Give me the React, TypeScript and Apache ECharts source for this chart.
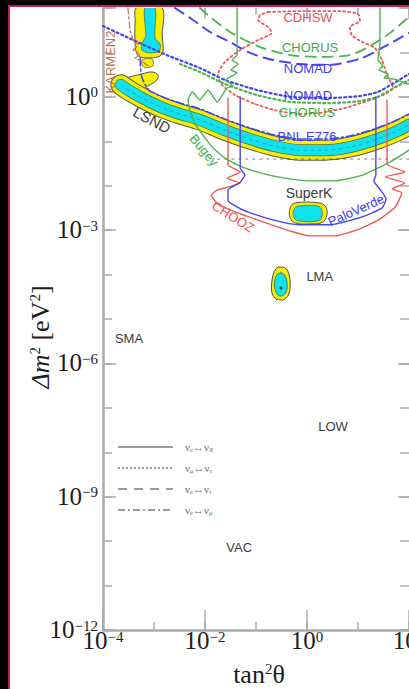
import React, { useEffect, useRef } from "react";
import * as echarts from "echarts";

type P = [number, number];
// every point is [log10(tan²θ), log10(Δm² / eV²)]

const xLabelExponents = [-4, -2, 0, 2];
const yLabelExponents = [-12, -9, -6, -3, 0];

const lsndIslandOuter: P[] = [[-3.35, 2.0], [-2.84, 2.0], [-2.84, 1.39], [-2.82, 1.055], [-2.88, 0.92], [-3.08, 0.875], [-3.31, 0.92], [-3.37, 1.17], [-3.37, 1.73]];
const lsndIslandInner: P[] = [[-3.18, 2.0], [-2.98, 2.0], [-2.98, 1.325], [-2.88, 1.19], [-2.9, 1.03], [-3.08, 0.99], [-3.24, 1.055], [-3.22, 1.235], [-3.16, 1.37]];
const lsndIslandFragment: P[] = [[-3.24, 0.83], [-3.04, 0.855], [-3.02, 0.695], [-3.2, 0.67]];
const lsndHook: P[] = [[-3.71, 0.22], [-3.65, 0.38], [-3.47, 0.45], [-3.24, 0.515], [-3.04, 0.56], [-2.92, 0.49], [-2.96, 0.36], [-3.12, 0.245], [-3.31, 0.11], [-3.57, 0.09]];
const lsndBand: P[] = [[-3.65, 0.27], [-3.47, 0.13], [-3.27, 0.0], [-3.08, -0.115], [-2.78, -0.27], [-2.49, -0.385], [-2.1, -0.52], [-1.61, -0.75], [-1.12, -0.95], [-0.63, -1.11], [-0.14, -1.2], [0.35, -1.2], [0.84, -1.13], [1.33, -0.97], [1.73, -0.79], [2.0, -0.63]];

const superKOuter: P[] = [[-0.24, -2.39], [0.25, -2.39], [0.37, -2.48], [0.39, -2.66], [0.31, -2.82], [0.06, -2.86], [-0.22, -2.84], [-0.33, -2.73], [-0.33, -2.5]];
const superKInner: P[] = [[-0.18, -2.46], [0.22, -2.46], [0.29, -2.55], [0.29, -2.7], [0.22, -2.79], [-0.18, -2.79], [-0.26, -2.7], [-0.26, -2.55]];

const lmaOuter: P[] = [[-0.51, -3.83], [-0.41, -3.87], [-0.35, -4.01], [-0.33, -4.21], [-0.35, -4.41], [-0.43, -4.55], [-0.53, -4.57], [-0.63, -4.53], [-0.69, -4.39], [-0.69, -4.17], [-0.65, -3.96], [-0.59, -3.85]];
const lmaInner: P[] = [[-0.51, -3.96], [-0.43, -4.03], [-0.39, -4.21], [-0.41, -4.39], [-0.49, -4.48], [-0.57, -4.46], [-0.63, -4.32], [-0.63, -4.12], [-0.59, -4.01]];
const lmaBestFit: P[] = [[-0.51, -4.3]];

const nomadDotted: P[] = [[-4.0, 1.595], [-3.41, 1.28], [-2.75, 0.94], [-2.1, 0.65], [-1.61, 0.38], [-0.98, 0.155], [-0.33, 0.0], [0.45, -0.025], [1.04, 0.02], [1.39, 0.11], [1.67, 0.29], [2.0, 0.515]];
const chorusDotted: P[] = [[-2.49, 0.74], [-2.1, 0.56], [-1.61, 0.29], [-0.98, 0.04], [-0.33, -0.115], [0.45, -0.14], [1.04, -0.095], [1.39, 0.0], [1.67, 0.18], [2.0, 0.38]];
const nomadDashed: P[] = [[-2.59, 2.0], [-2.29, 1.775], [-1.9, 1.46], [-1.51, 1.235], [-1.12, 0.99], [-0.67, 0.83], [-0.14, 0.74], [0.45, 0.72], [1.08, 0.875], [1.47, 1.1], [2.0, 1.44]];
const chorusDashed: P[] = [[-2.1, 2.0], [-1.9, 1.8], [-1.51, 1.46], [-0.92, 1.12], [-0.33, 0.94], [0.25, 0.9], [0.84, 0.94], [1.24, 1.145], [1.63, 1.44], [2.0, 1.8]];
const cdhswDotted: P[] = [[-0.76, 1.91], [-0.14, 1.93], [0.65, 1.93], [1.0, 1.865], [1.04, 1.71], [0.84, 1.57], [0.88, 1.39], [1.08, 1.235], [1.33, 1.1], [1.47, 0.83], [1.57, 0.49], [1.69, 0.2], [1.53, 0.065], [1.24, -0.07], [0.75, -0.25], [0.25, -0.36], [-0.18, -0.385], [-0.63, -0.3], [-1.02, -0.16], [-1.41, 0.04], [-1.67, 0.27], [-1.75, 0.49], [-1.61, 0.785], [-1.31, 1.055], [-0.96, 1.28], [-0.69, 1.44], [-0.76, 1.57], [-0.96, 1.73], [-0.92, 1.84], [-0.76, 1.91]];
const bnlDashDot: P[] = [[-3.27, 0.875], [-3.25, 0.49], [-3.16, 0.245], [-3.08, 0.13], [-2.78, -0.025], [-2.49, -0.14], [-2.1, -0.27], [-1.61, -0.5], [-1.12, -0.7], [-0.63, -0.86], [-0.14, -0.95], [0.35, -0.95], [0.84, -0.88], [1.33, -0.72], [1.73, -0.54], [2.0, -0.385]];
const bugeySolid: P[] = [[-1.37, 2.0], [-1.37, 0.94], [-1.47, 0.83], [-1.35, 0.74], [-1.49, 0.605], [-1.37, 0.54], [-1.59, 0.38], [-1.45, 0.245], [-1.57, 0.2], [-1.76, -0.115], [-1.94, 0.155], [-2.1, -0.07], [-2.25, 0.11], [-2.33, -0.07], [-2.29, -0.3], [-2.18, -0.63], [-2.04, -0.86], [-1.86, -1.13], [-1.61, -1.38], [-1.31, -1.56], [-0.92, -1.71], [-0.43, -1.83], [0.06, -1.89], [0.55, -1.89], [1.04, -1.78], [1.43, -1.58], [1.73, -1.4], [2.0, -1.2]];
const greenSolidRight: P[] = [[1.43, 2.0], [1.43, 1.17], [1.39, 0.83], [1.49, 0.695], [1.41, 0.605], [1.59, 0.515], [1.51, 0.425], [1.73, 0.4], [1.86, 0.335], [2.0, 0.29]];
const choozSolid: P[] = [[-1.55, -0.025], [-1.55, -1.53], [-1.31, -1.69], [-1.57, -1.83], [-1.31, -1.94], [-1.76, -2.1], [-1.88, -2.21], [-1.75, -2.41], [-1.41, -2.59], [-0.92, -2.79], [-0.33, -3.02], [0.06, -3.13], [0.55, -3.13], [1.04, -2.97], [1.43, -2.75], [1.73, -2.48], [1.86, -2.16], [1.67, -2.07], [1.92, -1.94], [1.53, -1.8], [1.92, -1.69], [1.57, -1.51], [1.57, -0.07]];
const paloVerdeSolid: P[] = [[-1.31, 0.0], [-1.31, -1.6], [-1.22, -1.76], [-1.31, -1.92], [-1.55, -2.1], [-1.55, -2.32], [-1.25, -2.55], [-0.67, -2.77], [-0.14, -2.88], [0.41, -2.88], [1.08, -2.7], [1.47, -2.5], [1.55, -2.3], [1.41, -2.05], [1.31, -1.89], [1.35, -1.76], [1.35, 0.0]];
const karmenDashDot: P[] = [[-3.51, 2.0], [-3.47, 1.505], [-3.41, 1.28], [-3.31, 1.17], [-3.41, 1.055], [-3.27, 0.965], [-3.37, 0.875], [-3.22, 0.785], [-3.08, 0.67]];
const bandEdgeDotted: P[] = [[-1.75, -1.4], [2.0, -1.4]];

const annotations = [
  { text: "CDHSW", at: [0.02, 1.775], color: "#f05050", size: 13, rotate: 0 },
  { text: "CHORUS", at: [0.06, 1.12], color: "#3fae3f", size: 13, rotate: 0 },
  { text: "NOMAD", at: [0.02, 0.63], color: "#3c3cf0", size: 13, rotate: 0 },
  { text: "NOMAD", at: [0.02, 0.04], color: "#3c3cf0", size: 13, rotate: 0 },
  { text: "CHORUS", at: [0.0, -0.36], color: "#3fae3f", size: 13, rotate: 0 },
  { text: "BNL E776", at: [0.0, -0.9], color: "#3c3cf0", size: 13, rotate: 0 },
  { text: "SuperK", at: [0.04, -2.16], color: "#3c3c3c", size: 14, rotate: 0 },
  { text: "PaloVerde", at: [0.96, -2.55], color: "#3c3cf0", size: 13, rotate: 24 },
  { text: "CHOOZ", at: [-1.45, -2.7], color: "#f05050", size: 13, rotate: -32 },
  { text: "LSND", at: [-3.04, -0.52], color: "#3c3c3c", size: 15, rotate: -28 },
  { text: "Bugey", at: [-2.02, -1.2], color: "#3fae3f", size: 13, rotate: -50 },
  { text: "KARMEN2", at: [-3.86, 0.785], color: "#b8754f", size: 13, rotate: 90 },
  { text: "LMA", at: [0.25, -4.05], color: "#3c3c3c", size: 13, rotate: 0 },
  { text: "SMA", at: [-3.49, -5.43], color: "#3c3c3c", size: 13, rotate: 0 },
  { text: "LOW", at: [0.51, -7.43], color: "#3c3c3c", size: 13, rotate: 0 },
  { text: "VAC", at: [-1.33, -10.15], color: "#3c3c3c", size: 13, rotate: 0 },
];

const legendRows = [
  { a: "e", b: "X", dash: null as number[] | null },
  { a: "μ", b: "τ", dash: [2, 2] },
  { a: "e", b: "τ", dash: [9, 7] },
  { a: "e", b: "μ", dash: [7, 3, 2, 3] },
];

const serif = '"Liberation Serif", "DejaVu Serif", serif';
const sans = '"Liberation Sans", Arial, sans-serif';
const axisGray = "#ababab";
const YELLOW = "#f6ef00";
const CYAN = "#10e2ee";
const RED = "#f05858";
const GREEN = "#4cb54c";
const BLUE = "#4444f0";
const BROWN = "#c08060";

const expText = (v: number) => `{b|10}{s|${String(v).replace("-", "\u2212")}}`;
const richNum = {
  b: { fontFamily: serif, fontSize: 25, color: "#1c1c1c", lineHeight: 24, verticalAlign: "bottom" },
  s: { fontFamily: serif, fontSize: 15, color: "#1c1c1c", lineHeight: 14, verticalAlign: "top" },
};

function region(points: P[], fill: string, stroke: string, lw: number, smooth: number, z = 2) {
  return {
    type: "custom",
    silent: true,
    clip: true,
    z,
    data: [points[0]],
    renderItem: (_p: any, api: any) => ({
      type: "polygon",
      shape: { points: points.map((pt) => api.coord(pt)), smooth },
      style: { fill, stroke, lineWidth: lw },
    }),
  };
}

function curve(data: P[], color: string, width: number, type: any, smooth: number | boolean = false, z = 3, opacity = 1) {
  return {
    type: "line",
    data,
    z,
    silent: true,
    showSymbol: false,
    symbol: "none",
    smooth,
    lineStyle: { color, width, type, opacity, cap: "round", join: "round" },
  };
}

function xAxisDef(position: string, interval: number, len: number, main: boolean) {
  return {
    type: "value", min: -4, max: 2, interval, position,
    axisLine: { show: main, onZero: false, lineStyle: { color: axisGray, width: 2.5 } },
    axisTick: { show: true, inside: true, length: len, lineStyle: { color: axisGray, width: 1.5 } },
    axisLabel: main
      ? { show: true, margin: -1, formatter: (v: number) => (xLabelExponents.includes(v) ? expText(v) : ""), rich: richNum }
      : { show: false },
    splitLine: { show: false },
  };
}
function yAxisDef(position: string, interval: number, len: number, main: boolean) {
  return {
    type: "value", min: -12, max: 2, interval, position,
    axisLine: { show: main, onZero: false, lineStyle: { color: axisGray, width: 2.5 } },
    axisTick: { show: true, inside: true, length: len, lineStyle: { color: axisGray, width: 1.5 } },
    axisLabel: main
      ? { show: true, margin: 5, formatter: (v: number) => (yLabelExponents.includes(v) ? expText(v) : ""), rich: richNum }
      : { show: false },
    splitLine: { show: false },
  };
}

export default function App() {
  const ref = useRef<HTMLDivElement>(null);
  useEffect(() => {
    if (!ref.current) return;
    const chart = echarts.init(ref.current, undefined, { renderer: "svg" });
    const legendGraphics: any[] = [];
    legendRows.forEach((r, i) => {
      const y = 447 + i * 21;
      legendGraphics.push({
        type: "line",
        shape: { x1: 118, y1: y, x2: 173, y2: y },
        style: { stroke: "#7a7a7a", lineWidth: 1.6, lineDash: r.dash || undefined },
      });
      legendGraphics.push({
        type: "text",
        x: 185,
        y: y,
        style: {
          text: `{n|ν}{d|${r.a}}{n|↔ν}{d|${r.b}}`,
          rich: {
            n: { fontFamily: serif, fontSize: 11, fill: "#707070", lineHeight: 12, verticalAlign: "top" },
            d: { fontFamily: serif, fontSize: 7, fontStyle: "italic", fill: "#707070", lineHeight: 7, padding: [7, 0, 0, 0], verticalAlign: "bottom" },
          },
          verticalAlign: "middle",
          align: "left",
        },
      });
    });

    const option: any = {
      animation: false,
      grid: { left: 103, right: 0, top: 8, bottom: 59, containLabel: false, outerBoundsMode: "none" },
      xAxis: [
        xAxisDef("bottom", 1, 8, true),
        xAxisDef("bottom", 2, 20, false),
        xAxisDef("top", 1, 7, false),
        xAxisDef("top", 2, 11, false),
      ],
      yAxis: [
        yAxisDef("left", 1, 9, true),
        yAxisDef("left", 3, 13, false),
        yAxisDef("right", 1, 9, false),
        yAxisDef("right", 3, 11, false),
      ],
      graphic: [
        {
          type: "text", x: 40, y: 337, rotation: Math.PI / 2,
          style: {
            text: "{i|Δm}{s|2}{n| [eV}{s|2}{n|]}",
            rich: {
              i: { fontFamily: serif, fontSize: 26, fontStyle: "italic", fill: "#1c1c1c", lineHeight: 26, verticalAlign: "bottom" },
              n: { fontFamily: serif, fontSize: 26, fill: "#1c1c1c", lineHeight: 26, verticalAlign: "bottom" },
              s: { fontFamily: serif, fontSize: 15, fill: "#1c1c1c", lineHeight: 15, verticalAlign: "top" },
            },
            align: "center", verticalAlign: "middle",
          },
        },
        {
          type: "text", x: 259, y: 674,
          style: {
            text: "{n|tan}{s|2}{n|θ}",
            rich: {
              n: { fontFamily: serif, fontSize: 26, fill: "#1c1c1c", lineHeight: 26, verticalAlign: "bottom" },
              s: { fontFamily: serif, fontSize: 15, fill: "#1c1c1c", lineHeight: 15, verticalAlign: "top" },
            },
            align: "center", verticalAlign: "middle",
          },
        },
        ...legendGraphics,
      ],
      series: [
        region(lsndIslandOuter, YELLOW, "#555", 1, 0.3),
        region(lsndIslandFragment, YELLOW, "#666", 0.8, 0.3),
        region(lsndIslandInner, CYAN, "#4a6a6a", 0.8, 0.3),
        region(lsndHook, YELLOW, "#555", 1, 0.4),
        curve(lsndBand, "#555", 21, "solid", 0.3, 2),
        curve(lsndBand, YELLOW, 19, "solid", 0.3, 2),
        curve(lsndBand, "#5f6a40", 12, "solid", 0.3, 2),
        curve(lsndBand, CYAN, 10.5, "solid", 0.3, 2),
        curve(lsndBand, "#3a6670", 1, [3, 4], 0.3, 2, 0.5),
        region(superKOuter, YELLOW, "#555", 1, 0.4),
        region(superKInner, CYAN, "#4a6a6a", 0.8, 0.4),
        region(lmaOuter, YELLOW, "#444", 1, 0.4),
        region(lmaInner, CYAN, "#3a5a5a", 0.8, 0.4),
        {
          type: "scatter", data: lmaBestFit, symbolSize: 3, z: 3, silent: true,
          itemStyle: { color: "#111" },
        },
        curve(bandEdgeDotted, "#222", 1, [2, 5], false, 3, 0.6),
        curve(cdhswDotted, RED, 1.8, [2, 3], 0.2),
        curve(nomadDotted, BLUE, 2.2, [2, 3], 0.2),
        curve(chorusDotted, GREEN, 2.2, [2, 3], 0.2),
        curve(nomadDashed, BLUE, 2, [10, 7], 0.25),
        curve(chorusDashed, GREEN, 1.8, [10, 7], 0.25),
        curve(bnlDashDot, BLUE, 1.6, [8, 3, 2, 3], 0.25),
        curve(bugeySolid, GREEN, 1.4, "solid", 0.15),
        curve(greenSolidRight, GREEN, 1.4, "solid", 0.1),
        curve(choozSolid, RED, 1.4, "solid", 0.15),
        curve(paloVerdeSolid, BLUE, 1.4, "solid", 0.2),
        curve(karmenDashDot, BROWN, 1.4, [6, 3, 2, 3], 0.1),
        {
          type: "custom",
          silent: true,
          z: 5,
          data: annotations.map((a) => a.at),
          renderItem: (params: any, api: any) => {
            const a = annotations[params.dataIndex];
            const [x, y] = api.coord(a.at);
            return {
              type: "text",
              x, y,
              rotation: (a.rotate * Math.PI) / 180,
              style: {
                text: a.text, fill: a.color, fontSize: a.size, fontFamily: sans,
                align: "center", verticalAlign: "middle",
              },
            };
          },
        },
      ],
    };
    chart.setOption(option);
    return () => chart.dispose();
  }, []);

  return (
    <div style={{ position: "fixed", left: 0, top: 0, width: 409, height: 689, background: "#000", overflow: "hidden" }}>
      <div style={{ position: "absolute", left: 8, top: 5, width: 420, height: 700, border: "2px solid #c8195a", background: "#fff", boxSizing: "border-box" }} />
      <div ref={ref} style={{ position: "absolute", left: 0, top: 0, width: 409, height: 689 }} />
    </div>
  );
}
